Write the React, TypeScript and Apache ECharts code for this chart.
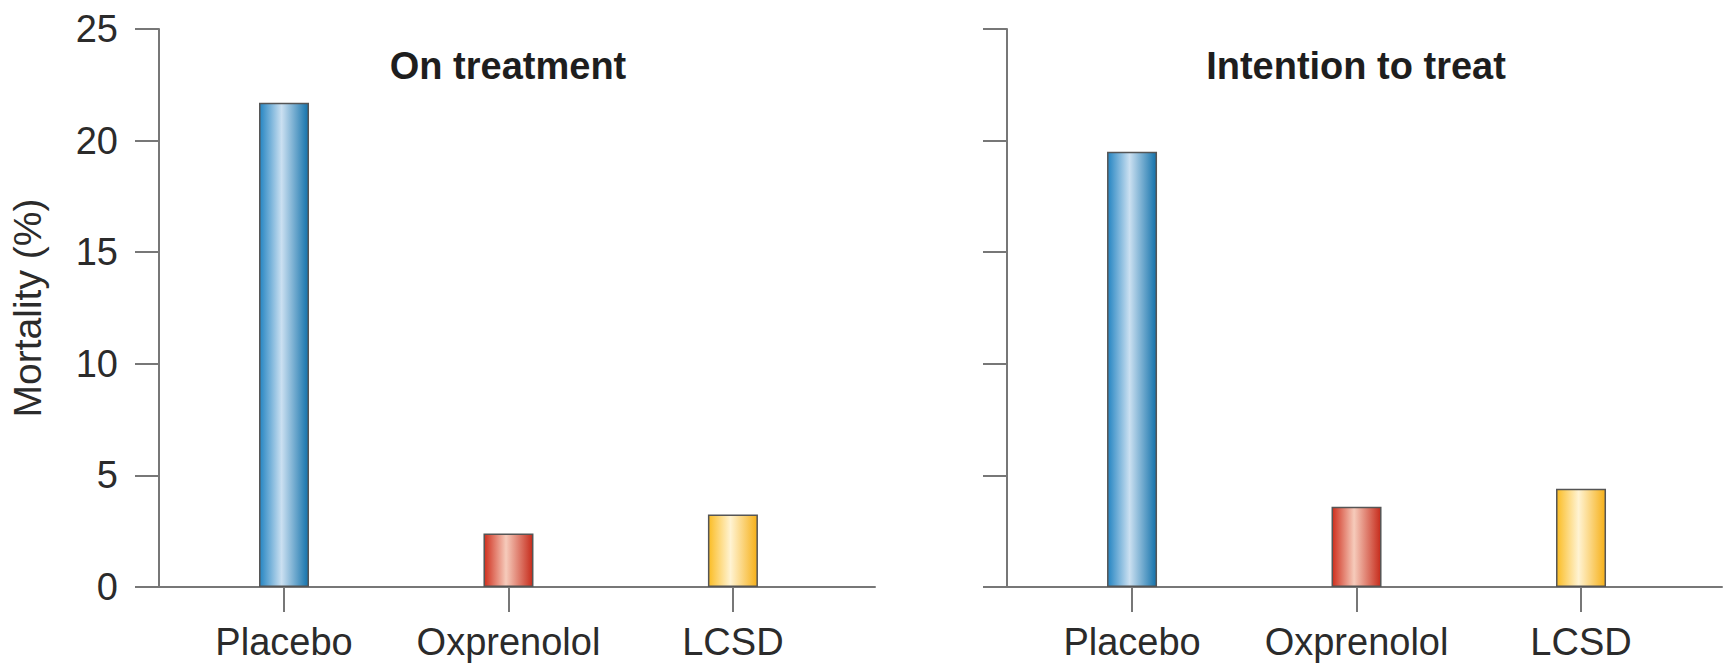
import React, { useEffect, useRef } from "react";
import * as echarts from "echarts";

// Groups shown on the horizontal axis
const categories = ["Placebo", "Oxprenolol", "LCSD"];

// Mortality (%) per group
const onTreatment = [21.7, 2.4, 3.25];
const intentionToTreat = [19.5, 3.6, 4.4];

const panelTitles = ["On treatment", "Intention to treat"];
const yAxisName = "Mortality (%)";

// Y scale
const yMin = 0;
const yMax = 25;
const yStep = 5;

const FONT = "'Liberation Sans', Arial, Helvetica, sans-serif";
const TEXT = "#2b2b2b";
const AXIS = "#777777";

// Horizontal gradients that give each bar a rounded, lit look
const barFills = [
  new echarts.graphic.LinearGradient(0, 0, 1, 0, [
    { offset: 0, color: "#2585c2" },
    { offset: 0.45, color: "#cbe0f1" },
    { offset: 1, color: "#1372ab" },
  ]),
  new echarts.graphic.LinearGradient(0, 0, 1, 0, [
    { offset: 0, color: "#cf2f1d" },
    { offset: 0.45, color: "#f6cbbb" },
    { offset: 1, color: "#c62b1b" },
  ]),
  new echarts.graphic.LinearGradient(0, 0, 1, 0, [
    { offset: 0, color: "#fbbd25" },
    { offset: 0.45, color: "#fff3d2" },
    { offset: 1, color: "#f6b018" },
  ]),
];

const catIdx = categories.map((_, i) => i);

function barData(values: number[]) {
  return values.map((v, i) => ({
    value: [i, v],
    itemStyle: { color: barFills[i] },
  }));
}

function xAxisFor(gridIndex: number, min: number, max: number) {
  return {
    type: "value",
    gridIndex,
    min,
    max,
    axisLine: { show: true, onZero: false, lineStyle: { color: AXIS, width: 2 } },
    axisTick: {
      show: true,
      customValues: catIdx,
      length: 25,
      lineStyle: { color: AXIS, width: 2 },
    },
    axisLabel: {
      show: true,
      customValues: catIdx,
      formatter: (v: number) => categories[Math.round(v)] ?? "",
      fontSize: 38,
      fontFamily: FONT,
      color: TEXT,
      margin: 36,
    },
    splitLine: { show: false },
  };
}

function yAxisFor(gridIndex: number, showLabels: boolean) {
  return {
    type: "value",
    gridIndex,
    min: yMin,
    max: yMax,
    interval: yStep,
    name: showLabels ? yAxisName : "",
    nameLocation: "middle",
    nameGap: 112,
    nameTextStyle: { fontSize: 39, fontFamily: FONT, color: TEXT },
    axisLine: { show: true, onZero: false, lineStyle: { color: AXIS, width: 2 } },
    axisTick: { show: true, length: 24, lineStyle: { color: AXIS, width: 2 } },
    axisLabel: {
      show: showLabels,
      fontSize: 38,
      fontFamily: FONT,
      color: TEXT,
      margin: 41,
    },
    splitLine: { show: false },
  };
}

export default function App() {
  const ref = useRef<HTMLDivElement>(null);

  useEffect(() => {
    if (!ref.current) return;
    const chart = echarts.init(ref.current, undefined, { renderer: "svg" });

    const titleStyle = {
      fontSize: 38,
      fontWeight: "bold",
      fontFamily: FONT,
      color: "#1e1e1e",
    };

    const option = {
      animation: false,
      backgroundColor: "#ffffff",
      title: [
        {
          text: panelTitles[0],
          left: 508,
          top: 47,
          padding: 0,
          textAlign: "center",
          textStyle: titleStyle,
        },
        {
          text: panelTitles[1],
          left: 1356,
          top: 47,
          padding: 0,
          textAlign: "center",
          textStyle: titleStyle,
        },
      ],
      grid: [
        { left: 159, top: 29, width: 716, height: 558 },
        { left: 1007, top: 29, width: 715, height: 558 },
      ],
      xAxis: [xAxisFor(0, -0.557, 2.633), xAxisFor(1, -0.557, 2.628)],
      yAxis: [yAxisFor(0, true), yAxisFor(1, false)],
      series: [
        {
          type: "bar",
          xAxisIndex: 0,
          yAxisIndex: 0,
          barWidth: 50,
          data: barData(onTreatment),
          itemStyle: { borderColor: "#555555", borderWidth: 1.5 },
        },
        {
          type: "bar",
          xAxisIndex: 1,
          yAxisIndex: 1,
          barWidth: 50,
          data: barData(intentionToTreat),
          itemStyle: { borderColor: "#555555", borderWidth: 1.5 },
        },
      ],
    };

    chart.setOption(option as any);
    return () => chart.dispose();
  }, []);

  return (
    <div
      ref={ref}
      style={{ position: "fixed", left: 0, top: 0, width: 1723, height: 664 }}
    />
  );
}
